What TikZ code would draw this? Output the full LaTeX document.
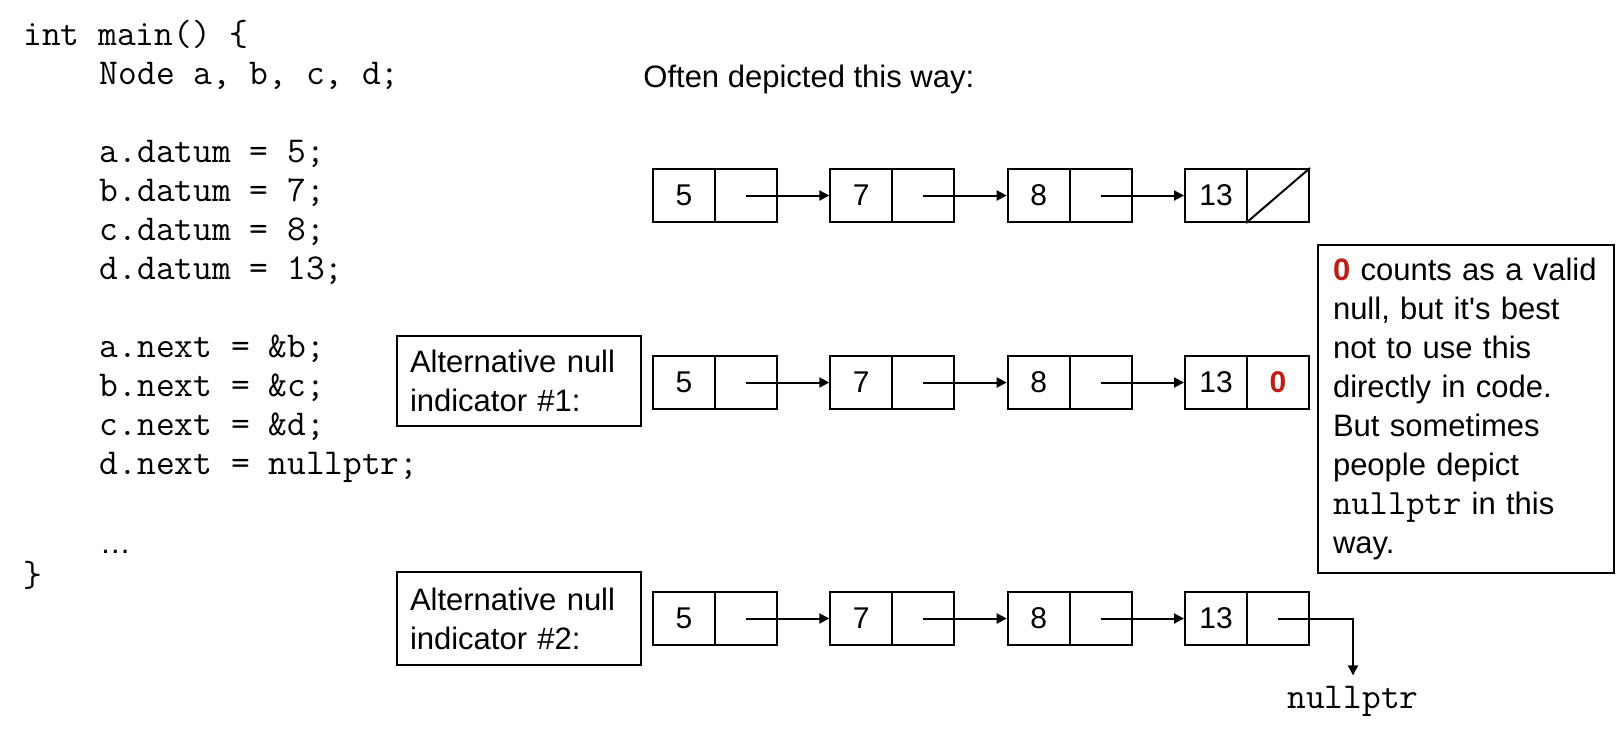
\documentclass[tikz,border=0pt]{standalone}
\usepackage{fontspec}
\setmainfont{Liberation Sans}
\usetikzlibrary{arrows.meta}
\definecolor{nullred}{RGB}{190,30,20}
\begin{document}
\begin{tikzpicture}[x=0.5pt,y=-0.5pt,
  cell/.style={draw, line width=1pt, minimum width=31pt, minimum height=26.5pt, inner sep=0pt, font=\fontsize{15}{18}\selectfont},
  arr/.style={line width=1pt, -{Triangle[length=5pt,width=5pt]}},
  code/.style={anchor=base west, inner sep=0pt, font=\ttfamily\fontsize{18.2}{19.5}\selectfont},
  lbl/.style={draw, line width=1.3pt, align=left, inner xsep=6.5pt, inner ysep=0pt, font=\fontsize{15.5}{19.5}\selectfont},
  plain/.style={anchor=base west, inner sep=0pt, font=\fontsize{15.5}{19.5}\selectfont},
]
\useasboundingbox (0,0) rectangle (1616,736);

% code listing
\node[code] (c1)  at (23,45)   {int main() \{};
\node[code] (c2)  at (99.4,84)  {Node a, b, c, d;};
\node[code] (c3)  at (99.4,162) {a.datum = 5;};
\node[code] (c4)  at (99.4,201) {b.datum = 7;};
\node[code] (c5)  at (99.4,240) {c.datum = 8;};
\node[code] (c6)  at (99.4,279) {d.datum = 13;};
\node[code] (c7)  at (99.4,357) {a.next = \&b;};
\node[code] (c8)  at (99.4,396) {b.next = \&c;};
\node[code] (c9)  at (99.4,435) {c.next = \&d;};
\node[code] (c10) at (99.4,474) {d.next = nullptr;};
\node[code, font=\fontsize{15.5}{19.5}\selectfont] (c11) at (99.4,553) {…};
\node[code] (c12) at (23,586)  {\}};

% heading
\node[plain] (head) at (643,87) {Often depicted this way:};

% label boxes
\node[lbl, text width=109pt, minimum height=45pt] (alt1) at (519,381) {Alternative null\\indicator \#1:};
\node[lbl, text width=109pt, minimum height=46.5pt] (alt2) at (519,618.5) {Alternative null\\indicator \#2:};

% linked lists
\foreach \r/\y in {1/195.5,2/382.5,3/618.5}{
  \foreach \i/\L/\v in {1/653/5,2/830.3/7,3/1007.7/8,4/1185/13}{
    \node[cell] (d\r\i) at (\L+31,\y) {\v};
    \node[cell] (p\r\i) at (\L+93,\y) {};
  }
  \foreach \i/\j in {1/2,2/3,3/4}{
    \draw[arr] (p\r\i.center) -- (d\r\j.west);
  }
}

% null indicators
\draw[line width=1pt] (p14.south west) -- (p14.north east);
\node[inner sep=0pt, text=nullred, font=\bfseries\fontsize{15}{18}\selectfont] (zero) at (p24.center) {0};
\node[code, anchor=base, inner sep=5pt] (np) at (1353,708) {nullptr};
\draw[arr] (p34.center) -| (np.north);

% callout
\node[lbl, line width=1.2pt, text width=133pt, inner xsep=7.5pt, minimum height=164pt, font=\fontsize{15.5}{19.55}\selectfont] (note) at (1466,409)
 {\textcolor{nullred}{\textbf{0}} counts as a valid\\
  null, but it{\addfontfeatures{Ligatures=TeXOff}'}s best\\
  not to use this\\
  directly in code.\\
  But sometimes\\
  people depict\\
  {\ttfamily\fontsize{17.8}{19.55}\selectfont nullptr} in this\\
  way.};
\end{tikzpicture}
\end{document}
